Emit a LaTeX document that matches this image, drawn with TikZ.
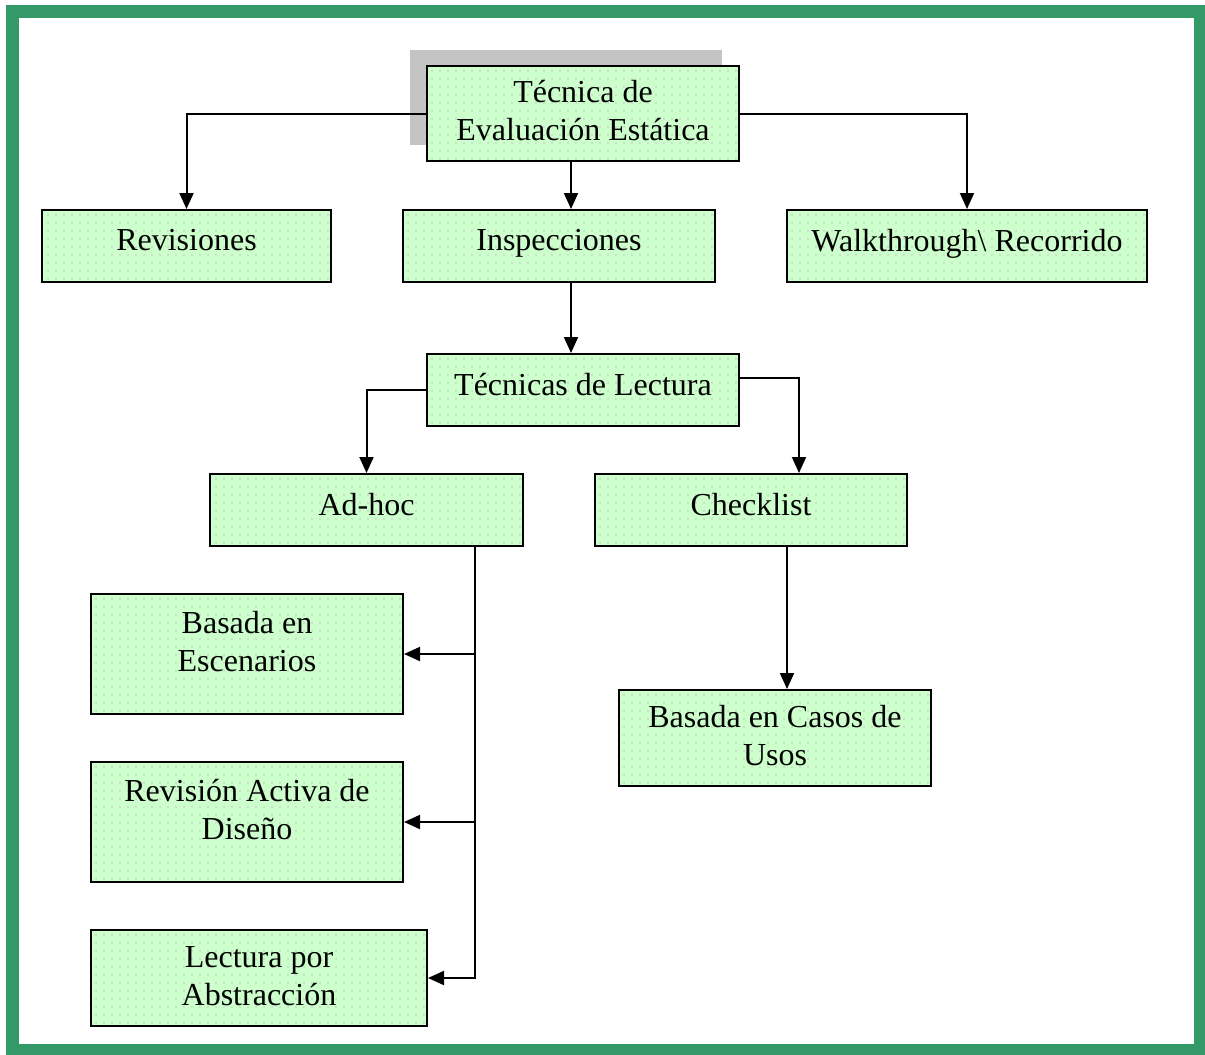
\documentclass[tikz,border=0pt]{standalone}
\usepackage{fontspec}
\setmainfont{Liberation Serif}
\usetikzlibrary{arrows.meta,shadows,patterns.meta}
\definecolor{verdecaja}{HTML}{CCFFCC}
\definecolor{verdemarco}{HTML}{339966}
\tikzdeclarepattern{
  name=puntos,
  type=uncolored,
  bottom left={(-0.5pt,-0.5pt)},
  top right={(3.5pt,3.5pt)},
  tile size={(4pt,4pt)},
  code={\fill (0,0) circle (0.45pt);}
}
\tikzset{
  caja/.style={draw, line width=1pt, fill=verdecaja,
    postaction={pattern=puntos, pattern color=black!22},
    align=center, font=\fontsize{16}{19}\selectfont, text depth=6pt,
    minimum width=156pt, minimum height=36pt, inner sep=0pt},
  dos/.style={text depth=3pt, minimum height=48pt},
  alta/.style={text depth=13pt, minimum height=60pt},
  flecha/.style={line width=1pt, -{Triangle[length=8pt,width=7pt]}},
  linea/.style={line width=1pt}
}
\begin{document}
\begin{tikzpicture}[x=0.5pt,y=-0.5pt]
      \useasboundingbox (0,0) rectangle (1205,1055);
      \draw[verdemarco, line width=6.5pt] (12.5,11) rectangle (1200,1050);
      \node[caja, dos, minimum height=47.5pt, general shadow={fill=black!23, shadow xshift=-8.5pt, shadow yshift=8pt}] (tecnica) at (583,113.5) {Técnica de\\Evaluación Estática};
      \node[caja, minimum width=144.5pt] (revisiones) at (186.5,246) {Revisiones};
      \node[caja] (inspecciones) at (559,246) {Inspecciones};
      \node[caja, minimum width=180pt] (walk) at (967,246) {Walkthrough\textbackslash\ Recorrido};
      \node[caja] (lectura) at (583,390) {Técnicas de Lectura};
      \node[caja, minimum width=156.5pt] (adhoc) at (366.5,510) {Ad-hoc};
      \node[caja] (checklist) at (751,510) {Checklist};
      \node[caja, alta] (escenarios) at (247,654) {Basada en\\Escenarios};
      \node[caja, alta] (diseno) at (247,822) {Revisión Activa de\\Diseño};
      \node[caja, dos, text depth=2pt, minimum width=168pt] (abstraccion) at (259,978) {Lectura por\\Abstracción};
      \node[caja, dos] (casos) at (775,738) {Basada en Casos de\\Usos};
      \draw[flecha] (tecnica.west) -| (revisiones.north);
      \draw[flecha] (tecnica.east) -| (walk.north);
      \draw[flecha] ([xshift=-6pt]tecnica.south) -- ([xshift=-6pt]tecnica.south |- inspecciones.north);
      \draw[flecha] ([xshift=6pt]inspecciones.south) -- ([xshift=6pt]inspecciones.south |- lectura.north);
      \draw[flecha] (lectura.west) -| (adhoc.north);
      \draw[flecha] ([yshift=6pt]lectura.east) -| ([xshift=24pt]checklist.north);
      \coordinate (tronco) at ([xshift=54.25pt]adhoc.south);
      \draw[flecha] (tronco) |- (abstraccion.east);
      \draw[flecha] (tronco |- escenarios.east) -- (escenarios.east);
      \draw[flecha] (tronco |- diseno.east) -- (diseno.east);
      \draw[flecha] ([xshift=18pt]checklist.south) -- ([xshift=18pt]checklist.south |- casos.north);
\end{tikzpicture}
\end{document}
